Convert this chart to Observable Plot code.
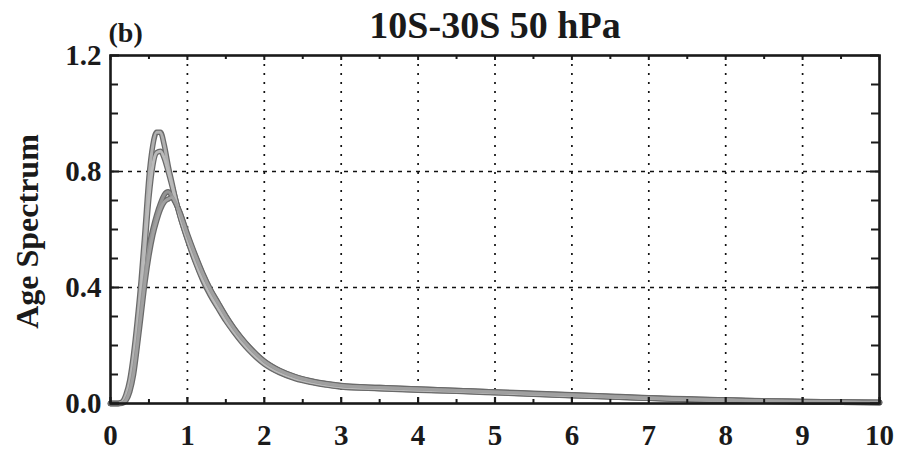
<!DOCTYPE html>
<html><head><meta charset="utf-8">
<script src="https://cdn.jsdelivr.net/npm/d3@7"></script>
<script src="https://cdn.jsdelivr.net/npm/@observablehq/plot@0.6"></script>
<style>body{margin:0;background:#fff} #chart svg{overflow:visible;display:block}</style>
</head><body><div id="chart"></div>
<script>
const title = "10S-30S 50 hPa";
const panelLabel = "(b)";
const yLabel = "Age Spectrum";
const xTicks = [0,1,2,3,4,5,6,7,8,9,10];
const yTicks = [0, 0.4, 0.8, 1.2];
const xGrid = [1,2,3,4,5,6,7,8,9];
const yGrid = [0.4, 0.8];
const xMinor = [0.5,1.5,2.5,3.5,4.5,5.5,6.5,7.5,8.5,9.5];
const yMinor = [0.1,0.2,0.3,0.5,0.6,0.7,0.9,1.0,1.1];

const ages = [0,0.1,0.15,0.2,0.25,0.3,0.35,0.4,0.45,0.5,0.55,0.6,0.65,0.7,0.75,0.8,0.85,0.9,1.0,1.1,1.2,1.3,1.4,1.5,1.6,1.7,1.8,1.9,2.0,2.2,2.4,2.6,2.8,3.0,3.5,4,4.5,5,5.5,6,6.5,7,7.5,8,8.5,9,9.5,10];
const seriesA = [0,0,0.005,0.03,0.08,0.17,0.29,0.43,0.6,0.78,0.89,0.935,0.935,0.89,0.82,0.76,0.7,0.65,0.565,0.49,0.425,0.372,0.328,0.285,0.248,0.214,0.184,0.158,0.136,0.106,0.086,0.073,0.064,0.057,0.051,0.046,0.042,0.037,0.032,0.027,0.022,0.018,0.014,0.011,0.008,0.006,0.004,0.003];
const seriesB = [0,0,0.003,0.02,0.06,0.14,0.25,0.39,0.55,0.71,0.82,0.865,0.87,0.845,0.8,0.75,0.7,0.65,0.568,0.494,0.43,0.377,0.332,0.289,0.251,0.217,0.187,0.161,0.139,0.108,0.088,0.075,0.065,0.058,0.052,0.047,0.043,0.038,0.033,0.028,0.023,0.018,0.014,0.011,0.008,0.006,0.004,0.003];
const seriesC = [0,0,0.002,0.015,0.05,0.12,0.22,0.34,0.45,0.54,0.6,0.65,0.69,0.72,0.73,0.715,0.69,0.66,0.58,0.51,0.445,0.39,0.345,0.3,0.26,0.225,0.195,0.168,0.145,0.113,0.092,0.078,0.068,0.061,0.055,0.05,0.045,0.04,0.035,0.03,0.025,0.02,0.016,0.012,0.009,0.007,0.005,0.004];
const seriesD = [0,0,0.001,0.01,0.04,0.1,0.2,0.31,0.42,0.51,0.58,0.63,0.67,0.695,0.705,0.71,0.69,0.66,0.585,0.514,0.449,0.393,0.347,0.302,0.262,0.227,0.196,0.169,0.146,0.114,0.093,0.079,0.069,0.062,0.055,0.05,0.045,0.04,0.034,0.029,0.024,0.019,0.015,0.012,0.009,0.007,0.005,0.004];
const seriesNames = ["A","B","C","D"];
const seriesColors = ["#b0b0b0","#bababa","#939393","#a0a0a0"];

const allSeries = [seriesA, seriesB, seriesC, seriesD];
const data = [];
allSeries.forEach((vals, i) => vals.forEach((v, j) => data.push({series: seriesNames[i], age: ages[j], value: v})));

const W = 902, H = 453, mL = 110, mR = 23, mT = 55, mB = 50;
const fw = W - mL - mR, fh = H - mT - mB;
const font = "'Liberation Serif', 'Times New Roman', serif";

const chart = Plot.plot({
  width: W, height: H,
  marginLeft: mL, marginRight: mR, marginTop: mT, marginBottom: mB,
  style: {fontFamily: font, background: "#fff", color: "#1a1a1a"},
  x: {domain: [0, 10]},
  y: {domain: [0, 1.2]},
  color: {domain: seriesNames, range: seriesColors},
  marks: [
    Plot.ruleX(xGrid, {stroke: "#111", strokeWidth: 1.7, strokeDasharray: "2,7"}),
    Plot.ruleY(yGrid, {stroke: "#111", strokeWidth: 1.5, strokeDasharray: "4,5"}),
    Plot.line(data, {x: "age", y: "value", z: "series", stroke: "#6a6a6a", strokeWidth: 5.5, curve: "monotone-x"}),
    Plot.line(data, {x: "age", y: "value", z: "series", stroke: "series", strokeWidth: 3, curve: "monotone-x"}),
    Plot.frame({stroke: "#1a1a1a", strokeWidth: 2.6}),
    Plot.ruleX(xTicks, {stroke: "#1a1a1a", strokeWidth: 2.2, insetTop: fh - 6}),
    Plot.ruleX(xMinor, {stroke: "#1a1a1a", strokeWidth: 2, insetTop: fh - 4}),
    Plot.ruleX(xTicks, {stroke: "#1a1a1a", strokeWidth: 2, insetBottom: fh - 5}),
    Plot.ruleX(xMinor, {stroke: "#1a1a1a", strokeWidth: 2, insetBottom: fh - 4}),
    Plot.ruleY(yTicks, {stroke: "#1a1a1a", strokeWidth: 2.2, insetRight: fw - 9}),
    Plot.ruleY(yMinor, {stroke: "#1a1a1a", strokeWidth: 2, insetRight: fw - 8}),
    Plot.ruleY(yTicks, {stroke: "#1a1a1a", strokeWidth: 2.2, insetLeft: fw - 9}),
    Plot.ruleY(yMinor, {stroke: "#1a1a1a", strokeWidth: 2, insetLeft: fw - 8}),
    Plot.axisX({ticks: xTicks, tickSize: 0, tickPadding: 21, fontSize: 29, fontWeight: "bold", tickFormat: d3.format("d"), label: null}),
    Plot.axisY({ticks: yTicks, tickSize: 0, tickPadding: 9, fontSize: 29, fontWeight: "bold", tickFormat: d3.format(".1f"), label: null}),
    Plot.text([title], {frameAnchor: "top", lineAnchor: "middle", dy: -30, fontSize: 38, fontWeight: "bold", fill: "#1a1a1a"}),
    Plot.text([panelLabel], {frameAnchor: "top-left", textAnchor: "start", lineAnchor: "middle", dx: -2, dy: -22, fontSize: 28, fontWeight: "bold", fill: "#1a1a1a"}),
    Plot.text([yLabel], {frameAnchor: "left", textAnchor: "middle", lineAnchor: "middle", rotate: -90, dx: -83, dy: 2, fontSize: 32, fontWeight: "bold", fill: "#1a1a1a"})
  ]
});
document.getElementById("chart").appendChild(chart);
</script>
</body></html>
